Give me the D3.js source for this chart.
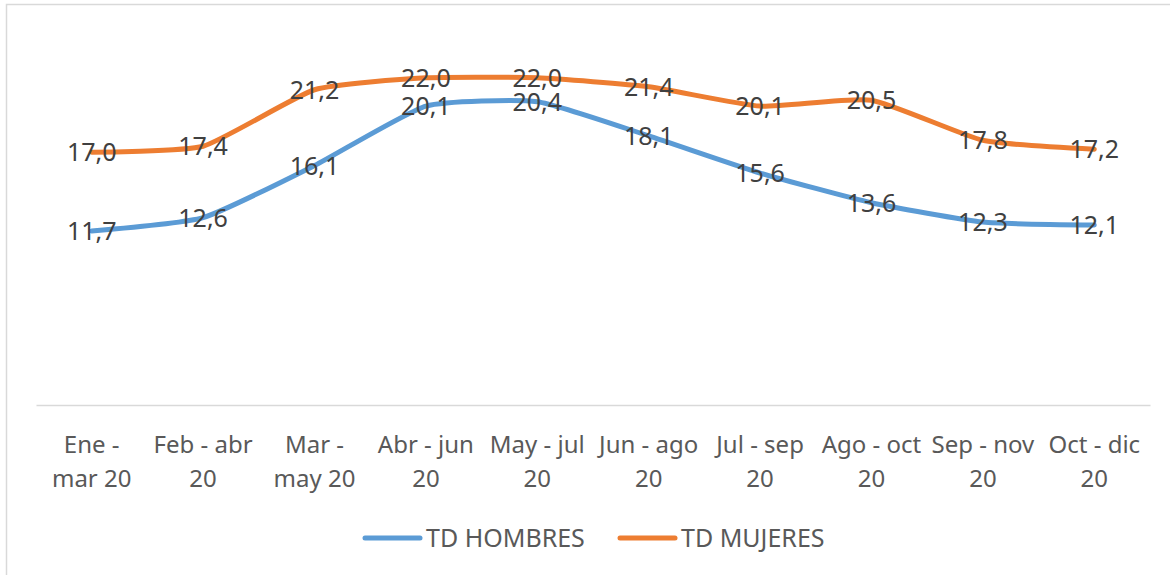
<!DOCTYPE html>
<html>
<head>
<meta charset="utf-8">
<script src="https://cdn.jsdelivr.net/npm/d3@7"></script>
<style>
  body { margin: 0; background: #fff; }
  svg { font-family: "Noto Sans", sans-serif; }
</style>
</head>
<body>
<svg id="chart" width="1170" height="575"></svg>
<script>
var categories = [
  "Ene -\nmar 20", "Feb - abr\n20", "Mar -\nmay 20", "Abr - jun\n20", "May - jul\n20",
  "Jun - ago\n20", "Jul - sep\n20", "Ago - oct\n20", "Sep - nov\n20", "Oct - dic\n20"
];
var hombres = [11.7, 12.6, 16.1, 20.1, 20.4, 18.1, 15.6, 13.6, 12.3, 12.1];
var mujeres = [17.0, 17.4, 21.2, 22.0, 22.0, 21.4, 20.1, 20.5, 17.8, 17.2];
var seriesNames = ["TD HOMBRES", "TD MUJERES"];
var seriesColors = ["#5B9BD5", "#ED7D31"];
var yMax = 25;

plot_lines();

function plot_lines() {
  var svg = d3.select("#chart");

  // chart frame, its right and bottom edges fall outside the crop
  svg.append("rect")
    .attr("x", 6.5).attr("y", 4.5)
    .attr("width", 1200).attr("height", 600)
    .attr("fill", "none")
    .attr("stroke", "#d9d9d9")
    .attr("stroke-width", 1.5);

  var x = d3.scaleBand()
    .domain(categories)
    .range([36, 1150]);

  var y = d3.scaleLinear()
    .domain([0, yMax])
    .range([405, 33.25]);

  var fmt = d3.formatLocale({decimal: ",", thousands: ".", grouping: [3], currency: ["", ""]}).format(".1f");

  var ax = d3.axisBottom(x).tickSize(0).tickSizeOuter(0);
  var gx = svg.append("g")
    .attr("class", "axis axis--x")
    .attr("transform", `translate(0, ${y(0)})`)
    .call(ax);

  gx.select(".domain")
    .attr("stroke", "#d9d9d9")
    .attr("stroke-width", 1.5);

  gx.selectAll(".tick text").each(function(d) {
    var t = d3.select(this);
    t.text(null)
      .attr("y", 0)
      .attr("dy", null)
      .attr("fill", "#595959")
      .style("font-size", "24px")
      .style("font-family", "'Noto Sans', sans-serif");
    d.split("\n").forEach(function(line, i) {
      t.append("tspan")
        .attr("x", 0)
        .attr("y", 47.5 + i * 34.5)
        .text(line);
    });
  });

  var line = d3.line()
    .x((d, i) => x(categories[i]) + x.bandwidth() / 2)
    .y((d) => y(d))
    .curve(d3.curveCardinal.tension(0.5));

  var allSeries = [hombres, mujeres];

  svg.selectAll(".series")
    .data(allSeries)
    .enter().append("path")
      .attr("class", "series")
      .attr("d", (d) => line(d))
      .attr("fill", "none")
      .attr("stroke", (d, i) => seriesColors[i])
      .attr("stroke-width", 5)
      .attr("stroke-linecap", "round")
      .attr("stroke-linejoin", "round");

  allSeries.forEach(function(s) {
    svg.append("g").selectAll("text")
      .data(s)
      .enter().append("text")
        .attr("x", (d, i) => x(categories[i]) + x.bandwidth() / 2)
        .attr("y", (d) => y(d))
        .attr("dy", "0.36em")
        .attr("text-anchor", "middle")
        .attr("fill", "#404040")
        .style("font-size", "25px")
        .text((d) => fmt(d));
  });

  // legend
  var legendX = [365, 620];
  var legend = svg.append("g").attr("class", "legend");
  seriesNames.forEach(function(name, i) {
    legend.append("line")
      .attr("x1", legendX[i]).attr("x2", legendX[i] + 55)
      .attr("y1", 538).attr("y2", 538)
      .attr("stroke", seriesColors[i])
      .attr("stroke-width", 5)
      .attr("stroke-linecap", "round");
    legend.append("text")
      .attr("x", legendX[i] + 61)
      .attr("y", 547)
      .attr("fill", "#595959")
      .style("font-size", "25px")
      .text(name);
  });
}
</script>
</body>
</html>
